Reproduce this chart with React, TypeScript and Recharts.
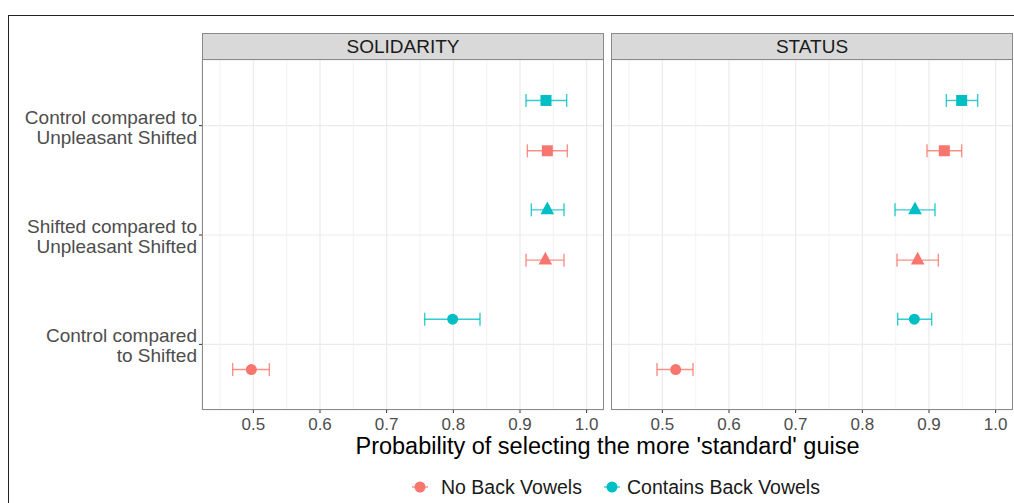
import React from "react";
import {
  ScatterChart,
  Scatter,
  XAxis,
  YAxis,
  CartesianGrid,
  ErrorBar,
  ReferenceLine
} from "recharts";

// comparisons, top to bottom
const categoryLines = [
  ["Control compared to", "Unpleasant Shifted"],
  ["Shifted compared to", "Unpleasant Shifted"],
  ["Control compared", "to Shifted"]
];
const shapeKinds = ["square", "triangle", "circle"];

const majorTicks = [0.5, 0.6, 0.7, 0.8, 0.9, 1.0];
const minorTicks = [0.45, 0.55, 0.65, 0.75, 0.85, 0.95];

// SOLIDARITY
const solidarityNoBack = [0.941, 0.938, 0.497];
const solidarityNoBackLow = [0.911, 0.909, 0.469];
const solidarityNoBackHigh = [0.971, 0.966, 0.524];
const solidarityBack = [0.939, 0.941, 0.799];
const solidarityBackLow = [0.909, 0.917, 0.757];
const solidarityBackHigh = [0.970, 0.966, 0.840];

// STATUS
const statusNoBack = [0.923, 0.883, 0.520];
const statusNoBackLow = [0.897, 0.852, 0.492];
const statusNoBackHigh = [0.949, 0.914, 0.546];
const statusBack = [0.949, 0.879, 0.878];
const statusBackLow = [0.926, 0.849, 0.853];
const statusBackHigh = [0.973, 0.909, 0.904];

const RED = "#F8766D";
const TEAL = "#00BFC4";
const FONT = "'Liberation Sans', Arial, Helvetica, sans-serif";
const DODGE = 0.23;

function buildPoints(mid: number[], low: number[], high: number[], offset: number) {
  return mid.map((v, i) => ({
    x: v,
    y: i + offset,
    err: [v - low[i], high[i] - v],
    shape: shapeKinds[i]
  }));
}

function Marker(props: any) {
  const { cx, cy, fill, payload } = props;
  if (cx == null || cy == null) return null;
  if (payload.shape === "square") {
    return <rect x={cx - 5.5} y={cy - 5.5} width={11} height={11} fill={fill} />;
  }
  if (payload.shape === "triangle") {
    return (
      <polygon
        points={`${cx},${cy - 8.4} ${cx + 6.8},${cy + 4.3} ${cx - 6.8},${cy + 4.3}`}
        fill={fill}
      />
    );
  }
  return <circle cx={cx} cy={cy} r={5.5} fill={fill} />;
}

function YTick(props: any) {
  const { x, y, payload } = props;
  const lines = categoryLines[payload.value] || [];
  return (
    <text x={x} y={y} textAnchor="end" fontSize={19} fill="#4d4d4d" fontFamily={FONT}>
      <tspan x={x} dy={-2}>{lines[0]}</tspan>
      <tspan x={x} dy={20}>{lines[1]}</tspan>
    </text>
  );
}

function Panel({ width, showY, noBack, back }: any) {
  return (
    <ScatterChart width={width} height={380} margin={{ top: 0, right: 0, bottom: 0, left: 0 }}>
      <CartesianGrid stroke="#ebebeb" strokeWidth={1.2} />
      {minorTicks.map((v) => (
        <ReferenceLine key={v} x={v} stroke="#f2f2f2" strokeWidth={0.9} />
      ))}
      <XAxis
        type="number"
        dataKey="x"
        domain={[0.423, 1.026]}
        allowDataOverflow
        ticks={majorTicks}
        interval={0}
        tickFormatter={(v: number) => v.toFixed(1)}
        axisLine={false}
        tickSize={3}
        tickMargin={5}
        tickLine={{ stroke: "#333333" }}
        tick={{ fontSize: 17, fill: "#4d4d4d", fontFamily: FONT }}
        height={30}
      />
      <YAxis
        type="number"
        dataKey="y"
        domain={[-0.6, 2.6]}
        reversed
        allowDataOverflow
        ticks={[0, 1, 2]}
        interval={0}
        hide={!showY}
        width={showY ? 194 : 0}
        axisLine={false}
        tickSize={3}
        tickMargin={2}
        tickLine={{ stroke: "#333333" }}
        tick={<YTick />}
      />
      <Scatter data={noBack} fill={RED} shape={Marker} isAnimationActive={false}>
        <ErrorBar dataKey="err" direction="x" width={6.5} stroke={RED} strokeWidth={1.4} strokeOpacity={0.8} />
      </Scatter>
      <Scatter data={back} fill={TEAL} shape={Marker} isAnimationActive={false}>
        <ErrorBar dataKey="err" direction="x" width={6.5} stroke={TEAL} strokeWidth={1.4} strokeOpacity={0.8} />
      </Scatter>
    </ScatterChart>
  );
}

function Strip({ left, label }: { left: number; label: string }) {
  return (
    <div
      style={{
        position: "absolute",
        left,
        top: 33,
        width: 402,
        height: 27,
        boxSizing: "border-box",
        background: "#d9d9d9",
        border: "1.3px solid #8a8a8a",
        display: "flex",
        alignItems: "center",
        justifyContent: "center",
        fontSize: 19,
        color: "#1a1a1a",
        fontFamily: FONT
      }}
    >
      {label}
    </div>
  );
}

function PanelBorder({ left }: { left: number }) {
  return (
    <div
      style={{
        position: "absolute",
        left,
        top: 59,
        width: 402,
        height: 351,
        boxSizing: "border-box",
        border: "1.3px solid #8a8a8a",
        pointerEvents: "none"
      }}
    />
  );
}

function LegendKey({ color }: { color: string }) {
  return (
    <svg width={18} height={14} style={{ display: "block" }}>
      <line x1={1} y1={7} x2={17} y2={7} stroke={color} strokeWidth={1.4} strokeOpacity={0.8} />
      <circle cx={9} cy={7} r={5.5} fill={color} />
    </svg>
  );
}

export default function App() {
  const solNoBack = buildPoints(solidarityNoBack, solidarityNoBackLow, solidarityNoBackHigh, DODGE);
  const solBack = buildPoints(solidarityBack, solidarityBackLow, solidarityBackHigh, -DODGE);
  const staNoBack = buildPoints(statusNoBack, statusNoBackLow, statusNoBackHigh, DODGE);
  const staBack = buildPoints(statusBack, statusBackLow, statusBackHigh, -DODGE);

  return (
    <div
      style={{
        position: "absolute",
        left: 0,
        top: 0,
        width: 1014,
        height: 503,
        overflow: "hidden",
        background: "#ffffff",
        fontFamily: FONT
      }}
    >
      {/* outer frame */}
      <div
        style={{
          position: "absolute",
          left: 8,
          top: 15,
          width: 1010,
          height: 500,
          borderTop: "1.5px solid #222",
          borderLeft: "1.5px solid #222"
        }}
      />

      <Strip left={202} label="SOLIDARITY" />
      <Strip left={611} label="STATUS" />

      <div style={{ position: "absolute", left: 8, top: 60 }}>
        <Panel width={596} showY noBack={solNoBack} back={solBack} />
      </div>
      <div style={{ position: "absolute", left: 611, top: 60 }}>
        <Panel width={402} showY={false} noBack={staNoBack} back={staBack} />
      </div>

      <PanelBorder left={202} />
      <PanelBorder left={611} />

      {/* x axis title */}
      <div
        style={{
          position: "absolute",
          left: 202,
          width: 811,
          top: 435,
          textAlign: "center",
          fontSize: 23.5,
          lineHeight: "23.5px",
          color: "#000"
        }}
      >
        Probability of selecting the more 'standard' guise
      </div>

      {/* legend */}
      <div style={{ position: "absolute", left: 411, top: 480 }}>
        <LegendKey color={RED} />
      </div>
      <div style={{ position: "absolute", left: 441, top: 478, fontSize: 19.5, lineHeight: "19.5px", color: "#1a1a1a" }}>
        No Back Vowels
      </div>
      <div style={{ position: "absolute", left: 603, top: 480 }}>
        <LegendKey color={TEAL} />
      </div>
      <div style={{ position: "absolute", left: 627, top: 478, fontSize: 19.5, lineHeight: "19.5px", color: "#1a1a1a" }}>
        Contains Back Vowels
      </div>
    </div>
  );
}
